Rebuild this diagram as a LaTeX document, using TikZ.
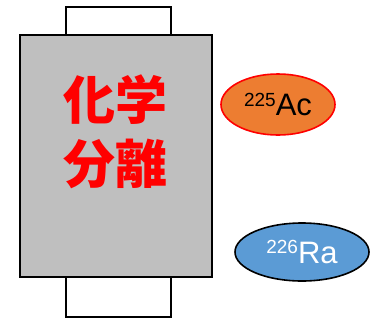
\documentclass[tikz,border=0pt]{standalone}
\usepackage{fontspec}
\setmainfont{Liberation Sans}
\newfontfamily\cjk{Noto Sans CJK JP}
\usetikzlibrary{shapes.geometric}
\definecolor{acorange}{HTML}{ED7D31}
\definecolor{rablue}{HTML}{5B9BD5}
\definecolor{colgray}{HTML}{BFBFBF}
\newcommand{\isotope}[2]{{\fontsize{19}{19}\selectfont\raisebox{9.5pt}{#1}}{\fontsize{31}{31}\selectfont #2}}

\begin{document}
\begin{tikzpicture}[x=1pt, y=-1pt,
    capbox/.style={draw, line width=1.5pt, fill=white},
    iso/.style={ellipse, line width=1.6pt, inner sep=0pt}]
  \useasboundingbox (0,0) rectangle (375,325);
  % column with its two end caps
  \draw[capbox] (66,7) rectangle (171,35);
  \draw[capbox] (66,277) rectangle (171,317);
  \draw[line width=1.5pt, fill=colgray] (20,35) rectangle (212,277);
  \node[text=red, font=\cjk\bfseries\fontsize{52}{64}\selectfont, align=center]
    (sep) at (115,132) {化学\\分離};
  % separated nuclides
  \node[iso, draw=red, fill=acorange, minimum width=114pt, minimum height=61pt]
    (ac) at (278,104.5) {\isotope{225}{Ac}};
  \node[iso, draw=black, fill=rablue, text=white, minimum width=134pt, minimum height=58pt]
    (ra) at (302,252) {\isotope{226}{Ra}};
\end{tikzpicture}
\end{document}
